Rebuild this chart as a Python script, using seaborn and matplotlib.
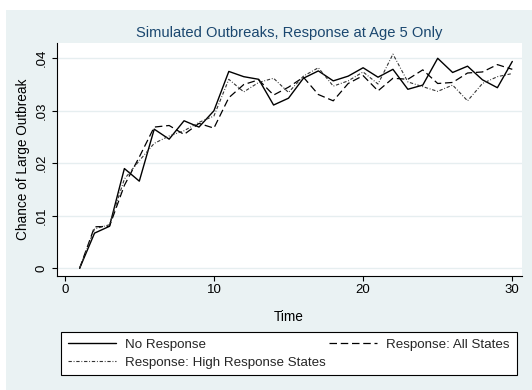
import matplotlib
matplotlib.use("Agg")
import matplotlib.pyplot as plt
from matplotlib.patches import Rectangle
from matplotlib.lines import Line2D
import numpy as np
import pandas as pd
import seaborn as sns

# ---- data ----
time = list(range(1, 31))
no_response = [0.0, 0.0067, 0.0080, 0.0190, 0.0166, 0.0265, 0.0246, 0.0281, 0.0269, 0.0300,
               0.0375, 0.0365, 0.0360, 0.0311, 0.0324, 0.0362, 0.0376, 0.0357, 0.0366, 0.0382,
               0.0364, 0.0379, 0.0341, 0.0349, 0.0400, 0.0373, 0.0385, 0.0359, 0.0344, 0.0394]
all_states = [0.0, 0.0079, 0.0080, 0.0158, 0.0212, 0.0269, 0.0272, 0.0255, 0.0276, 0.0267,
              0.0325, 0.0350, 0.0359, 0.0330, 0.0345, 0.0364, 0.0331, 0.0319, 0.0352, 0.0367,
              0.0338, 0.0362, 0.0360, 0.0378, 0.0352, 0.0354, 0.0372, 0.0374, 0.0388, 0.0379]
high_states = [0.0, 0.0075, 0.0083, 0.0170, 0.0205, 0.0238, 0.0252, 0.0262, 0.0278, 0.0290,
               0.0360, 0.0336, 0.0354, 0.0362, 0.0335, 0.0366, 0.0382, 0.0347, 0.0357, 0.0374,
               0.0351, 0.0408, 0.0355, 0.0346, 0.0337, 0.0349, 0.0319, 0.0352, 0.0365, 0.0371]
series_labels = ["No Response", "Response: All States", "Response: High Response States"]
x_ticks = [0, 10, 20, 30]
y_ticks = [0, 0.01, 0.02, 0.03, 0.04]
y_tick_labels = ["0", ".01", ".02", ".03", ".04"]
title = "Simulated Outbreaks, Response at Age 5 Only"
x_label = "Time"
y_label = "Chance of Large Outbreak"

# ---- style ----
sns.set_theme(style="white")
plt.rcParams['font.family'] = ['Liberation Sans', 'DejaVu Sans']

W, H = 532, 390
fig = plt.figure(figsize=(W / 100, H / 100), dpi=100)
fig.patch.set_facecolor('white')
bg = Rectangle((6 / W, 0), 1 - 6 / W, 1 - 10 / H, transform=fig.transFigure,
               facecolor='#EAF2F3', edgecolor='none', zorder=-10)
fig.patches.append(bg)

ax_l, ax_r, ax_t, ax_b = 56.7, 521.5, 42.7, 276.0
ax = fig.add_axes([ax_l / W, (H - ax_b) / H, (ax_r - ax_l) / W, (ax_b - ax_t) / H])
ax.set_facecolor('white')

styles = [
    dict(linestyle='-', linewidth=1.0, color='black'),
    dict(linestyle=(0, (6, 3)), linewidth=0.9, color='black'),
    dict(linestyle=(0, (3, 1.6, 0.8, 1.6)), linewidth=0.8, color='#333333'),
]
for vals, lab, st in zip([no_response, all_states, high_states], series_labels, styles):
    df = pd.DataFrame({"t": time, "v": vals})
    sns.lineplot(data=df, x="t", y="v", ax=ax, legend=False, **st)

ax.set_xlim((ax_l - 64.7) / 14.92, (ax_r - 64.7) / 14.92)
ax.set_ylim((268.3 - ax_b) / 5250, (268.3 - ax_t) / 5250)
ax.set_xticks(x_ticks)
ax.set_xticklabels([str(v) for v in x_ticks], fontsize=9.5)
ax.set_yticks(y_ticks)
ax.set_yticklabels(y_tick_labels, fontsize=9.5, rotation=90, va='center')

ax.yaxis.grid(True, color='#E6EEF0', linewidth=1.0)
ax.xaxis.grid(False)
ax.set_axisbelow(True)
for s in ['top', 'right']:
    ax.spines[s].set_visible(False)
for s in ['left', 'bottom']:
    ax.spines[s].set_color('black')
    ax.spines[s].set_linewidth(0.8)
ax.tick_params(axis='both', which='major', direction='out', length=3.6, width=0.8,
               color='black', labelcolor='black', bottom=True, left=True)
ax.tick_params(axis='x', pad=2)
ax.tick_params(axis='y', pad=3)

ax.set_xlabel(x_label, fontsize=9.8, labelpad=10, color='black')
ax.set_ylabel(y_label, fontsize=9.8, labelpad=4, color='black')
ax.set_title(title, fontsize=10.6, color='#1A476F', pad=4)

handles = [Line2D([], [], **styles[0]), Line2D([], [], **styles[2]), Line2D([], [], **styles[1])]
labels = [series_labels[0], series_labels[2], series_labels[1]]
leg_l, leg_r, leg_t = 61, 516.5, 332
leg = fig.legend(handles, labels, loc='upper left',
                 bbox_to_anchor=(leg_l / W, (H - leg_t) / H, (leg_r - leg_l) / W, 0.0001),
                 mode='expand', ncol=2, frameon=True, fancybox=False, edgecolor='black',
                 facecolor='white', framealpha=1, borderaxespad=0, fontsize=9.6,
                 handlelength=3.6, handletextpad=0.7, borderpad=0.5, labelspacing=0.4,
                 columnspacing=1.0)
leg.get_frame().set_linewidth(0.8)

fig.savefig("out.png", dpi=100, facecolor=fig.get_facecolor())
